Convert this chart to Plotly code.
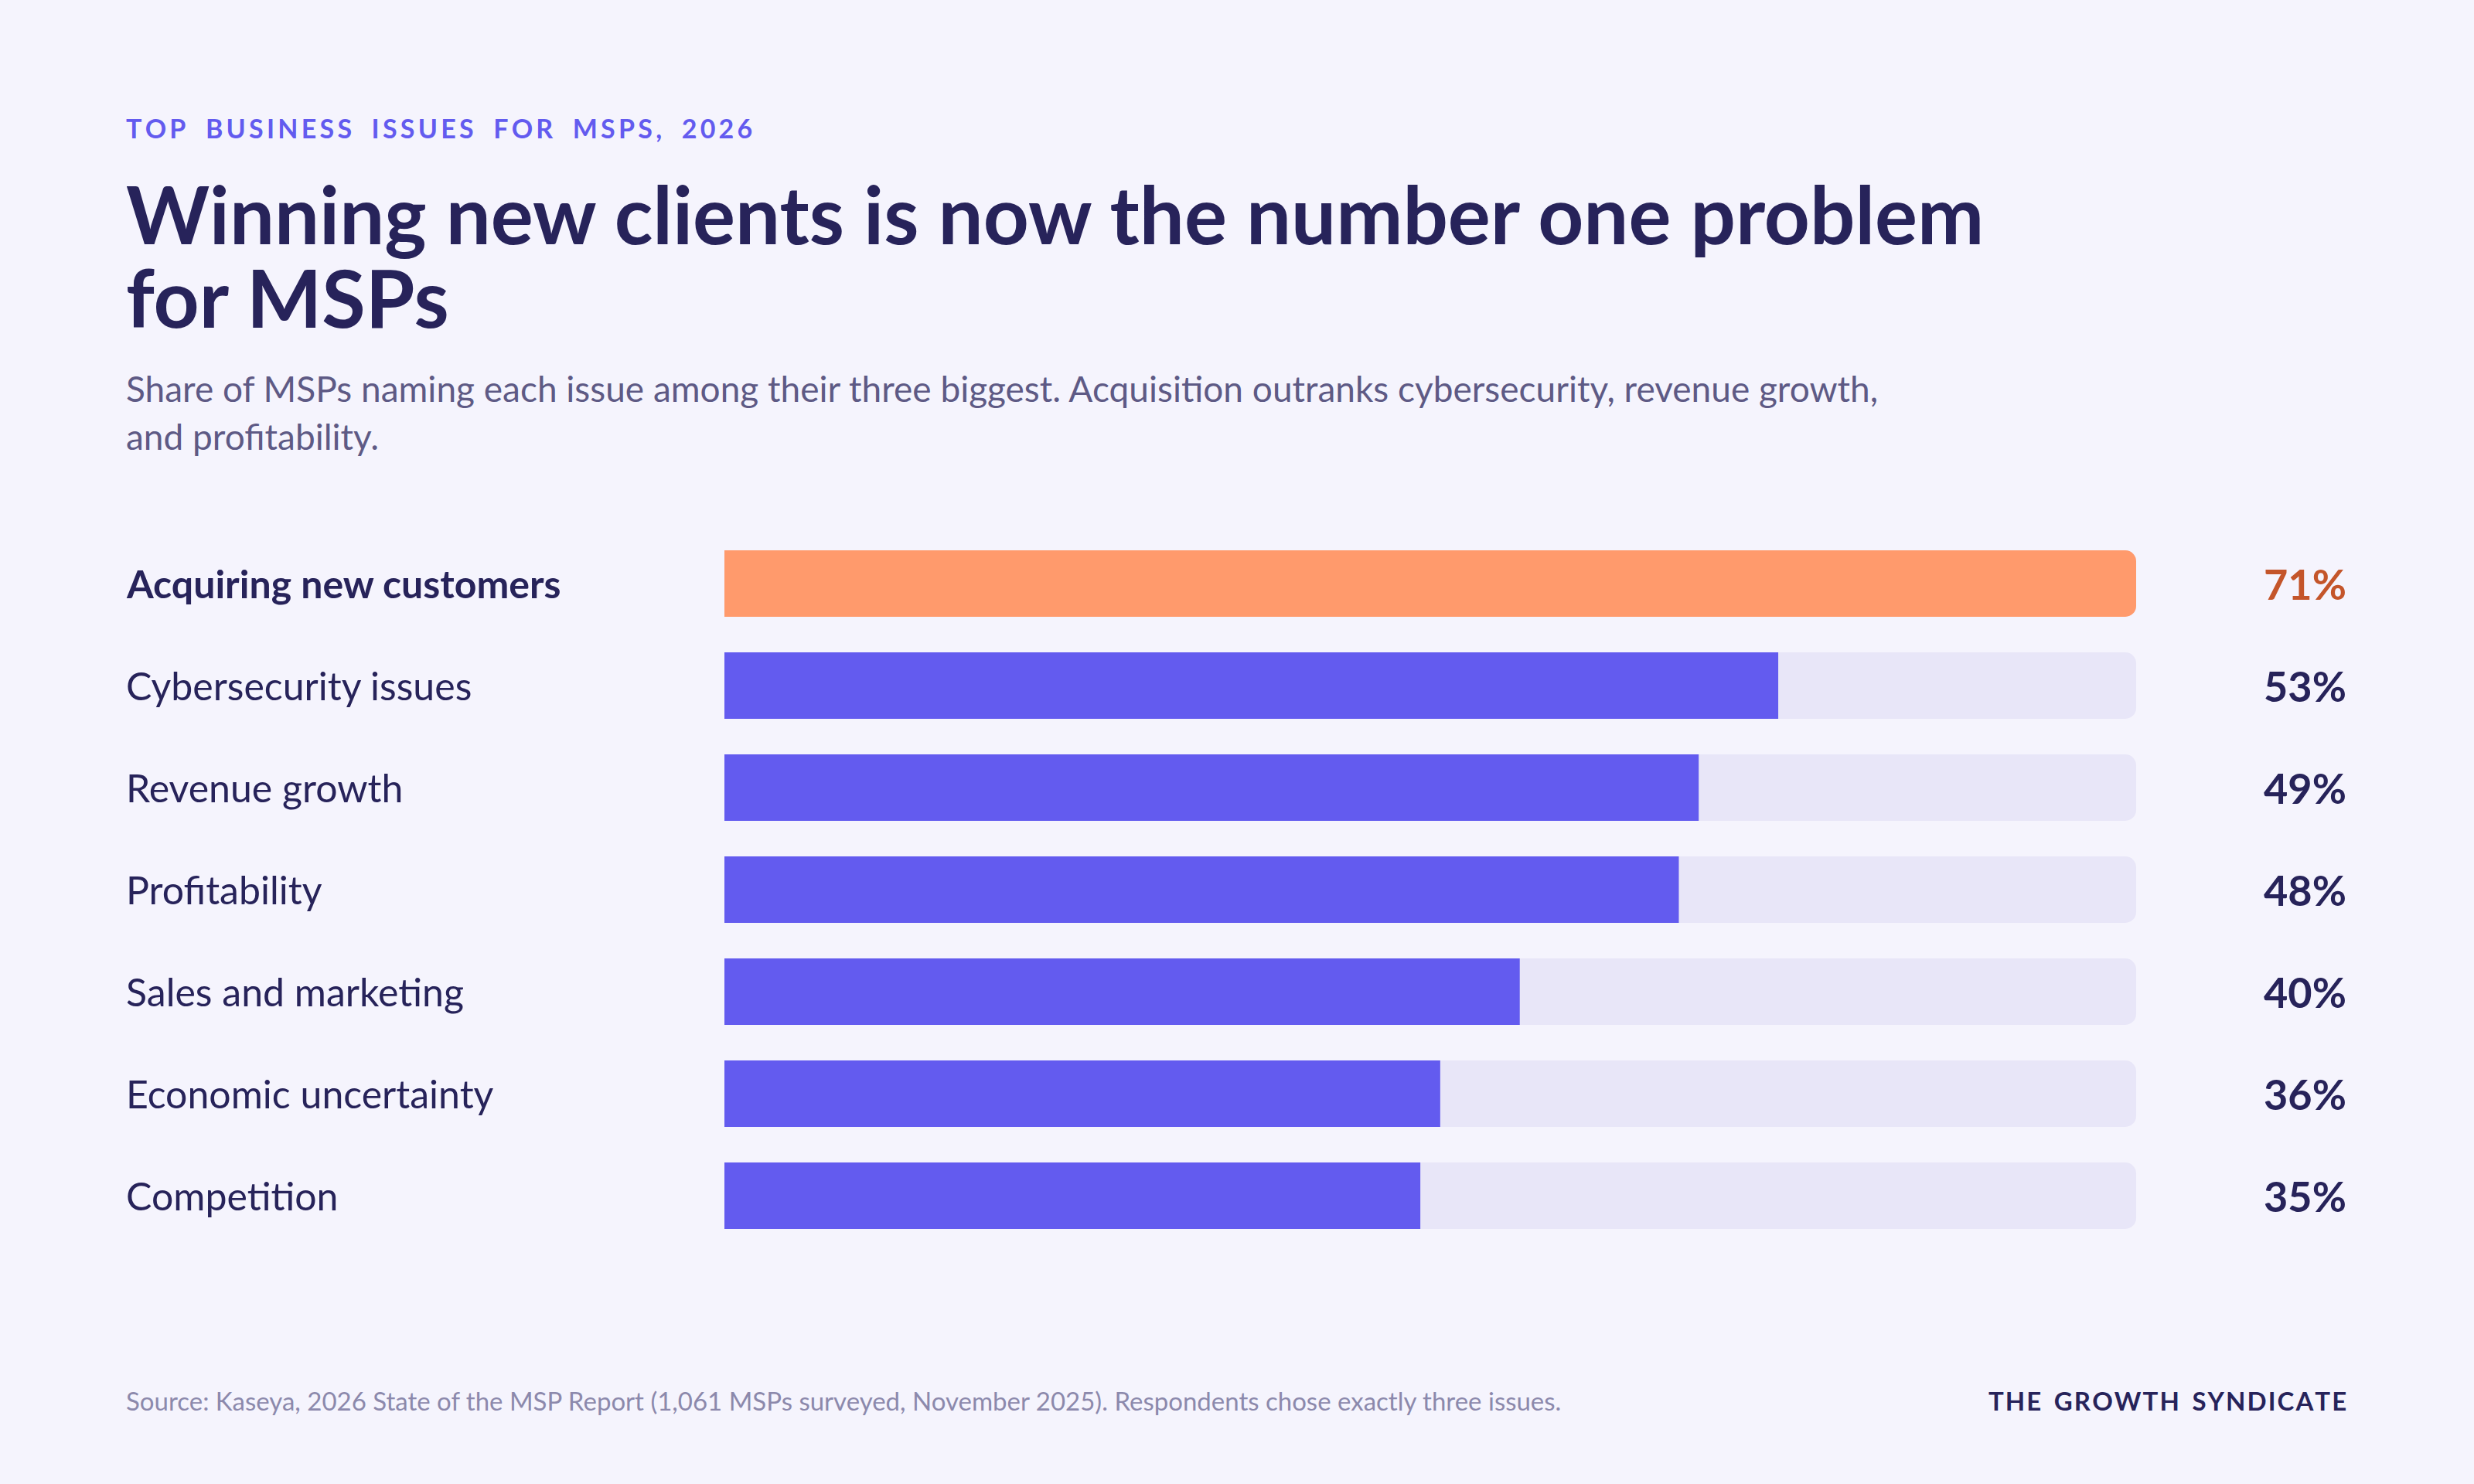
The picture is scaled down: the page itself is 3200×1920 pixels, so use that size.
import plotly.graph_objects as go

categories = ["Acquiring new customers", "Cybersecurity issues", "Revenue growth",
              "Profitability", "Sales and marketing", "Economic uncertainty", "Competition"]
values = [71, 53, 49, 48, 40, 36, 35]
value_labels = ["71%", "53%", "49%", "48%", "40%", "36%", "35%"]

W, H = 3200, 1920
DARK = "#27235A"
PURPLE = "#635BEF"
ORANGE = "#FF9A6C"
TRACK = "#E8E6F8"
BG = "#F5F4FD"
FONT = "Lato"

maxv = max(values)
colors = [ORANGE if i == 0 else PURPLE for i in range(len(values))]

fig = go.Figure()
fig.add_bar(y=categories, x=[maxv]*len(values), orientation="h",
            marker=dict(color=TRACK, line=dict(width=0)), hoverinfo="skip")
fig.add_bar(y=categories, x=values, orientation="h",
            marker=dict(color=colors, line=dict(width=0)))

ann = []
for i, (c, v) in enumerate(zip(categories, value_labels)):
    ann.append(dict(x=161/W, xref="paper", y=c, yref="y", xanchor="left", yanchor="middle",
                    text=f"<b>{c}</b>" if i == 0 else c, showarrow=False,
                    font=dict(family=FONT, size=50, color=DARK)))
    ann.append(dict(x=3037/W, xref="paper", y=c, yref="y", xanchor="right", yanchor="middle",
                    text=f"<b>{v}</b>", showarrow=False,
                    font=dict(family=FONT, size=54, color="#C4552A" if i == 0 else DARK)))

def ptext(x, y, text, size, color, anchor="left", bold=False):
    ann.append(dict(x=x/W, y=1-y/H, xref="paper", yref="paper", xanchor=anchor, yanchor="middle",
                    text=f"<b>{text}</b>" if bold else text, showarrow=False, align="left",
                    font=dict(family=FONT, size=size, color=color)))

def spaced(s, gap="\u200a", word="\u2002"):
    return word.join(gap.join(w) for w in s.split(" "))

ptext(161, 165, spaced("TOP BUSINESS ISSUES FOR MSPS, 2026", "\u2009", "\u2003"), 34, PURPLE, bold=True)
ptext(161, 276, "Winning new clients is now the number one problem", 103, DARK, bold=True)
ptext(161, 384, "for MSPs", 103, DARK, bold=True)
ptext(161, 502, "Share of MSPs naming each issue among their three biggest. Acquisition outranks cybersecurity, revenue growth,", 46, "#5E5A85")
ptext(161, 565, "and profitability.", 46, "#5E5A85")
ptext(161, 1812, "Source: Kaseya, 2026 State of the MSP Report (1,061 MSPs surveyed, November 2025). Respondents chose exactly three issues.", 33, "#8C89AC")
ptext(3037, 1812, spaced("THE GROWTH SYNDICATE"), 33, DARK, anchor="right", bold=True)

fig.update_layout(
    width=W, height=H, margin=dict(l=0, r=0, t=0, b=0),
    paper_bgcolor=BG, plot_bgcolor=BG, showlegend=False,
    barmode="overlay", bargap=0.35, barcornerradius=14,
    xaxis=dict(domain=[937/W, 2763/W], range=[0, maxv], visible=False, fixedrange=True),
    yaxis=dict(domain=[1-1613/H, 1-689/H], range=[6.5, -0.5], visible=False,
               categoryorder="array", categoryarray=categories),
    annotations=ann,
)
fig.write_html("out.html", config={"displayModeBar": False},
               post_script="document.body.style.margin='0';document.body.style.background='#F5F4FD';")
